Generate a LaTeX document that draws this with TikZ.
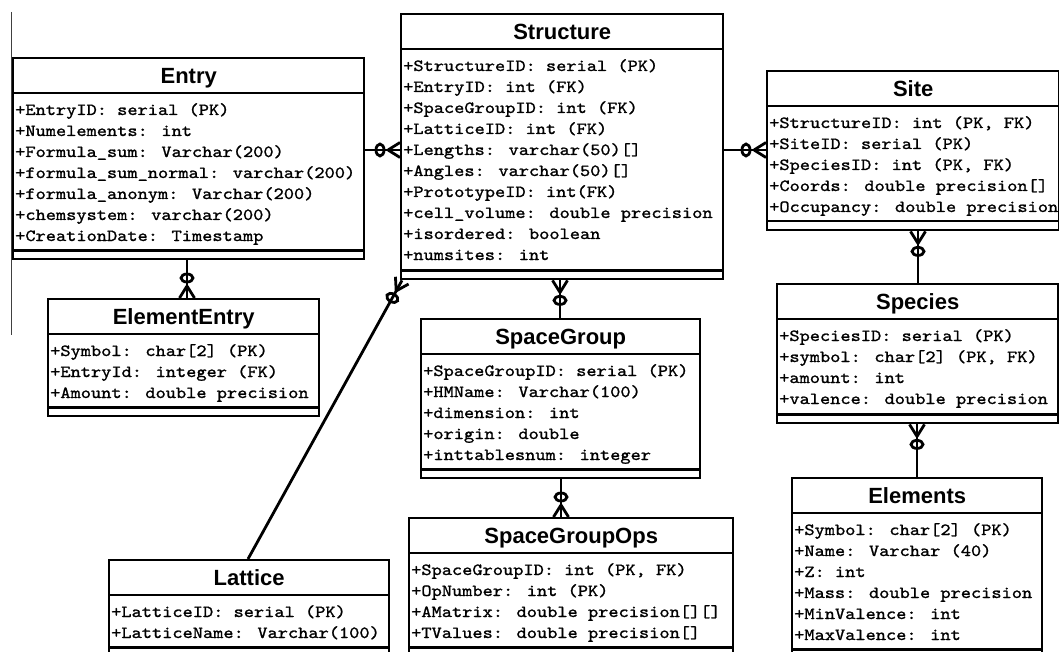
\documentclass[tikz,border=0pt]{standalone}
\usepackage{fontspec}
\usetikzlibrary{calc,shapes.geometric}
\newfontfamily\titlefont{Liberation Sans}
\newfontfamily\attrfont{lmmono10-regular.otf}[FakeStretch=1.143,FakeBold=1.2]
\tikzset{
 ebox/.style={draw, line width=2.4pt, rectangle, inner sep=0pt, fill=white},
 sepline/.style={line width=2.2pt},
 etitle/.style={font=\titlefont\bfseries\fontsize{22}{26}\selectfont, anchor=base, inner sep=0pt},
 attr/.style={font=\attrfont\fontsize{17}{21}\selectfont, anchor=base west, inner sep=0pt},
 conn/.style={line width=2.8pt},
 ring/.style={draw, ellipse, line width=2.8pt, minimum width=8pt, minimum height=12pt, inner sep=0pt, sloped}
}
\newcommand\entity[7]{%
 \node[ebox, minimum width=#4pt, minimum height=#5pt, anchor=north west] (#1) at (#2pt,-#3pt) {};
 \draw[sepline] ([yshift=-36pt]#1.north west) -- ([yshift=-36pt]#1.north east);
 \draw[sepline] ([yshift=10pt]#1.south west) -- ([yshift=10pt]#1.south east);
 \node[etitle] (#1-title) at ([yshift=-26.5pt]#1.north) {#6};
 \foreach \rowtext [count=\i] in {#7} {
   \node[attr] (#1-row\i) at ([xshift=3pt,yshift={-58pt-21pt*(\i-1)}]#1.north west) {\rowtext};
 }
}
\newcommand\link[3]{%
 \draw[conn] (#2) -- (#3);
 \draw[conn] ($(#3)!12pt!(#2)$) -- ($(#3)!7.5pt!90:(#2)$);
 \draw[conn] ($(#3)!12pt!(#2)$) -- ($(#3)!7.5pt!-90:(#2)$);
 \path ($(#3)!25pt!(#2)$) -- ($(#3)!15pt!(#2)$) node[ring, midway] (#1-ring) {};
}
\begin{document}
\begin{tikzpicture}
\useasboundingbox (0,0) rectangle (1059pt,-652pt);
\clip (0,0) rectangle (1059pt,-652pt);
\fill[white] (0,0) rectangle (1059pt,-652pt);
\draw[line width=0.8pt, black!75] (11pt,-12pt) -- (11pt,-335pt);

\entity{entry}{12}{57}{351}{201}{Entry}{{+EntryID: serial (PK)},{+Numelements: int},{+Formula\_sum: Varchar(200)},{+formula\_sum\_normal: varchar(200)},{+formula\_anonym: Varchar(200)},{+chemsystem: varchar(200)},{+CreationDate: Timestamp}}
\entity{structure}{400}{13}{322}{265}{Structure}{{+StructureID: serial (PK)},{+EntryID: int (FK)},{+SpaceGroupID: int (FK)},{+LatticeID: int (FK)},{+Lengths: varchar(50)[]},{+Angles: varchar(50)[]},{+PrototypeID: int(FK)},{+cell\_volume: double precision},{+isordered: boolean},{+numsites: int}}
\entity{site}{766}{70}{292}{159}{Site}{{+StructureID: int (PK, FK)},{+SiteID: serial (PK)},{+SpeciesID: int (PK, FK)},{+Coords: double precision[]},{+Occupancy: double precision}}
\entity{species}{776}{283}{281}{139}{Species}{{+SpeciesID: serial (PK)},{+symbol: char[2] (PK, FK)},{+amount: int},{+valence: double precision}}
\entity{elements}{791}{477}{250}{180}{Elements}{{+Symbol: char[2] (PK)},{+Name: Varchar (40)},{+Z: int},{+Mass: double precision},{+MinValence: int},{+MaxValence: int}}
\entity{eentry}{47}{298}{271}{117}{ElementEntry}{{+Symbol: char[2] (PK)},{+EntryId: integer (FK)},{+Amount: double precision}}
\entity{lattice}{108}{559}{280}{96}{Lattice}{{+LatticeID: serial (PK)},{+LatticeName: Varchar(100)}}
\entity{sg}{420}{318}{279}{159}{SpaceGroup}{{+SpaceGroupID: serial (PK)},{+HMName: Varchar(100)},{+dimension: int},{+origin: double},{+inttablesnum: integer}}
\entity{sgops}{408}{517}{324}{138}{SpaceGroupOps}{{+SpaceGroupID: int (PK, FK)},{+OpNumber: int (PK)},{+AMatrix: double precision[][]},{+TValues: double precision[]}}

\coordinate (c1s) at ([yshift=-93pt]entry.north east);
\coordinate (c1e) at (structure.west |- c1s);
\link{l1}{c1s}{c1e}
\coordinate (c2e) at ([yshift=-80pt]site.north west);
\coordinate (c2s) at (structure.east |- c2e);
\link{l2}{c2s}{c2e}
\coordinate (c3e) at ([xshift=140pt]eentry.north west);
\coordinate (c3s) at (entry.south -| c3e);
\link{l3}{c3s}{c3e}
\coordinate (c4s) at ([xshift=140pt]lattice.north west);
\coordinate (c4e) at ([xshift=2pt]structure.south west);
\link{l4}{c4s}{c4e}
\coordinate (c5s) at ([xshift=140pt]sg.north west);
\coordinate (c5e) at (structure.south -| c5s);
\link{l5}{c5s}{c5e}
\coordinate (c6s) at ([xshift=141pt]sg.south west);
\coordinate (c6e) at (sgops.north -| c6s);
\link{l6}{c6s}{c6e}
\coordinate (c7s) at ([xshift=142pt]species.north west);
\coordinate (c7e) at (site.south -| c7s);
\link{l7}{c7s}{c7e}
\coordinate (c8s) at ([xshift=126pt]elements.north west);
\coordinate (c8e) at (species.south -| c8s);
\link{l8}{c8s}{c8e}
\end{tikzpicture}
\end{document}
